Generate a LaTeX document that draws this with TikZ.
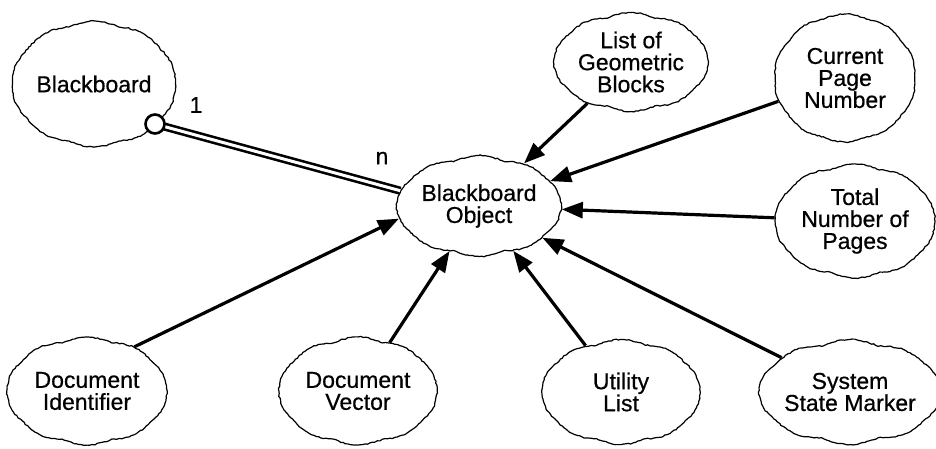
\documentclass[tikz,border=0pt]{standalone}
\usepackage{fontspec}
\setmainfont{Liberation Sans}[BoldFont=Liberation Sans, BoldFeatures={FakeBold=0.6}]
\usetikzlibrary{shapes.symbols,arrows.meta,decorations.pathmorphing}
\begin{document}
\begin{tikzpicture}[x=1pt,y=-1pt,
  cl/.style={cloud, cloud puffs=10, cloud puff arc=55, cloud ignores aspect,
    draw, line width=1.2pt, align=center, inner sep=0pt,
    font=\fontsize{23}{22}\selectfont\bfseries,
    decorate, decoration={random steps,segment length=2.5pt,amplitude=0.6pt}},
  arr/.style={line width=3.2pt, -{Triangle[length=21pt,width=16pt]}},
  lbl/.style={font=\fontsize{23}{23}\selectfont\bfseries, inner sep=0pt}]
\pgfmathsetmacro{\dummy}{1}
\pgfmathsetseed{7}
\useasboundingbox (0,0) rectangle (936,448);
\node[cl, minimum width=164pt, minimum height=126pt] (bb) at (94,84) {Blackboard};
\node[cl, minimum width=164pt, minimum height=101pt] (bbo) at (479,206) {Blackboard\\Object};
\node[cl, minimum width=154pt, minimum height=99pt] (lgb) at (631,62) {List of\\Geometric\\Blocks};
\node[cl, minimum width=142pt, minimum height=128pt] (cpn) at (845,78) {Current\\Page\\Number};
\node[cl, minimum width=160pt, minimum height=114pt] (tnp) at (855,221) {Total\\Number of\\Pages};
\node[cl, minimum width=160pt, minimum height=108pt] (did) at (87,391) {Document\\Identifier};
\node[cl, minimum width=158pt, minimum height=108pt] (dv) at (358,391) {Document\\Vector};
\node[cl, minimum width=158pt, minimum height=105pt] (ul) at (621,392) {Utility\\List};
\node[cl, minimum width=164pt, minimum height=105pt] (ssm) at (850,392) {System\\State Marker};
\draw[line width=2.6pt, double=white, double distance=3pt] (bbo.169) -- (155,124) coordinate (cend);
\node[circle, draw, line width=2.6pt, fill=white, minimum size=19pt, inner sep=0pt] (c1) at (155,124) {};
\node[lbl] (one) at (196,105) {1};
\node[lbl] (n) at (382,158) {n};
\draw[arr] (lgb) -- (bbo);
\draw[arr] (cpn) -- (bbo);
\draw[arr] (tnp) -- (bbo);
\draw[arr] (ssm) -- (bbo);
\draw[arr] (ul) -- (bbo);
\draw[arr] (dv) -- (bbo);
\draw[arr] (did.43) -- (bbo.189);
\end{tikzpicture}
\end{document}
